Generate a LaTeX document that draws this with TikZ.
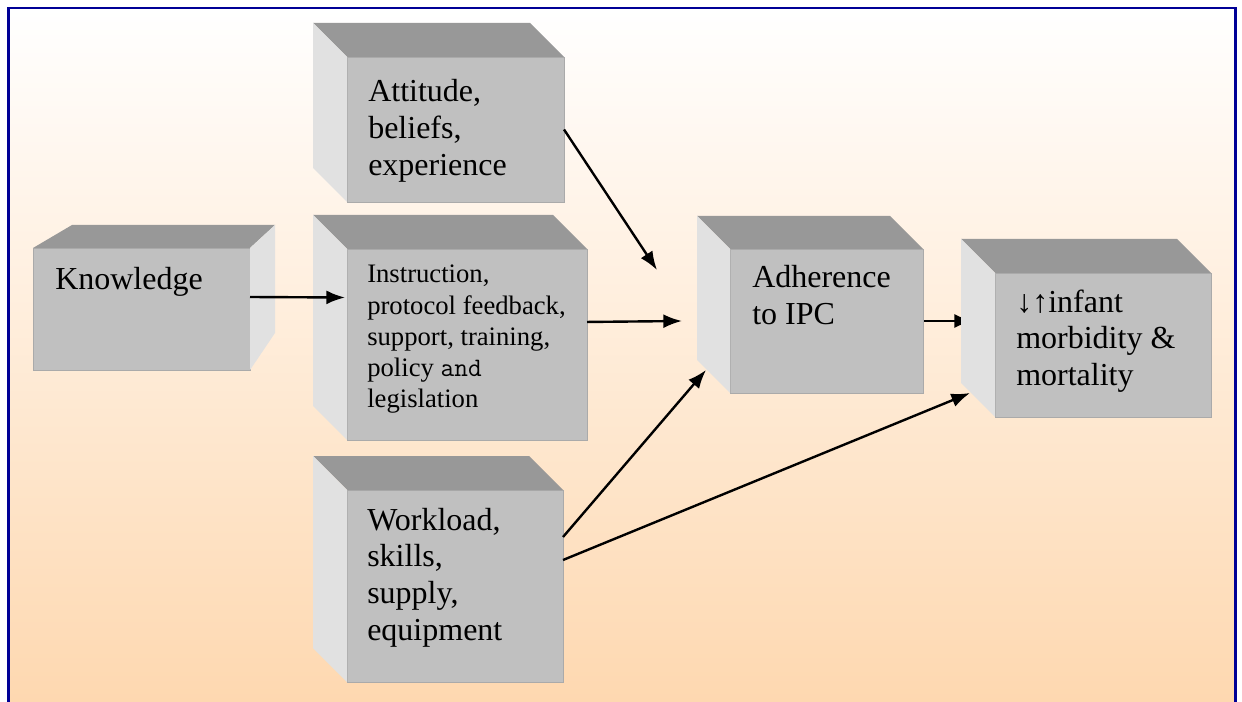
\documentclass[tikz,border=0pt]{standalone}
\usepackage{fontspec}
\setmainfont{Liberation Serif}
\usetikzlibrary{arrows.meta,fit}

\definecolor{frameblue}{RGB}{0,0,150}
\definecolor{peach}{RGB}{254,216,176}
\definecolor{facefront}{RGB}{192,192,192}
\definecolor{facetop}{RGB}{152,152,152}
\definecolor{faceside}{RGB}{225,225,225}
\definecolor{faceedge}{RGB}{170,170,170}

\pgfdeclarelayer{bg}
\pgfdeclarelayer{links}
\pgfsetlayers{bg,links,main}

\tikzset{
  front/.style={fill=facefront, draw=faceedge, line width=0.6pt, inner sep=0pt, outer sep=0pt},
  topface/.style={fill=facetop},
  sideface/.style={fill=faceside},
  bigtext/.style={anchor=base west, inner sep=0pt, font=\fontsize{24}{27.5}\selectfont},
  smalltext/.style={anchor=base west, inner sep=0pt, font=\fontsize{20}{23.4}\selectfont},
  link/.style={line width=1.8pt, -{Latex[length=14pt,width=10.5pt]}},
}

% box with its depth shown on the upper left: name, front x1,y1,x2,y2, depth
\newcommand\cubeleft[6]{%
  \node[front, fit={(#2,#3)(#4,#5)}] (#1) {};
  \fill[topface] (#2,#3) -- (#2-#6,#3-#6) -- (#4-#6,#3-#6) -- (#4,#3) -- cycle;
  \fill[sideface] (#2,#3) -- (#2-#6,#3-#6) -- (#2-#6,#5-#6) -- (#2,#5) -- cycle;
}

\begin{document}
\begin{tikzpicture}[x=0.75pt, y=-0.75pt]
\useasboundingbox (0,0) rectangle (1242,702);

% page background and frame
\begin{pgfonlayer}{bg}
  \fill[white] (0,0) rectangle (1242,702);
  \shade[top color=white, bottom color=peach] (8.5,8) rectangle (1235.5,702);
  \draw[frameblue, line width=1.9pt] (8.5,702) -- (8.5,8) -- (1235.5,8) -- (1235.5,702);
\end{pgfonlayer}

% boxes
\cubeleft{att}{347}{57}{564}{202}{34}
\cubeleft{inst}{347}{249}{587}{440}{34}
\cubeleft{work}{347}{490}{563}{682}{34}
\cubeleft{adh}{730}{249}{923}{393}{33}
\cubeleft{inf}{995}{273}{1211}{417}{34}

% knowledge box, depth shown on the upper right
\node[front, fit={(33,248)(250,370)}] (know) {};
\fill[topface] (33,248) -- (72,225) -- (275,225) -- (250,248) -- cycle;
\fill[sideface] (250,248) -- (275,225) -- (275,333) -- (250,370) -- cycle;

% labels
\node[bigtext] (att-t) at (368,102) {\parbox[t]{200pt}{\raggedright Attitude,\\beliefs,\\experience}};
\node[bigtext] (know-t) at (55,290) {Knowledge};
\node[smalltext] (inst-t) at (367,283) {\parbox[t]{200pt}{\raggedright Instruction,\\protocol feedback,\\support, training,\\policy \texttt{and}\\legislation}};
\node[bigtext] (work-t) at (367,530) {\parbox[t]{200pt}{\raggedright Workload,\\skills,\\supply,\\equipment}};
\node[bigtext] (adh-t) at (752,288) {\parbox[t]{200pt}{\raggedright Adherence\\to IPC}};
\node[bigtext] (inf-t) at (1016,312) {\parbox[t]{200pt}{\raggedright ↓↑infant\\morbidity \&\\mortality}};

% connectors
\draw[link] ([yshift=9pt]know.east) -- ([xshift=-1.5pt,yshift=35.25pt]inst.west);
\draw[link] ([yshift=16.9pt]inst.east) -- ([xshift=-36pt]adh.west);
\draw[link] (att.east) -- ([xshift=-54.75pt,yshift=-15.75pt]adh.north west);
\draw[link] ([yshift=36.75pt]work.east) -- ([xshift=-18pt,yshift=17.25pt]adh.south west);
\draw[link] ([yshift=19.5pt]work.east) -- ([xshift=-18.75pt,yshift=18pt]inf.south west);
% this one runs behind the box it points at
\begin{pgfonlayer}{links}
  \draw[link] (adh.east) -- ([xshift=-16.5pt,yshift=18pt]inf.west);
\end{pgfonlayer}
\end{tikzpicture}
\end{document}
